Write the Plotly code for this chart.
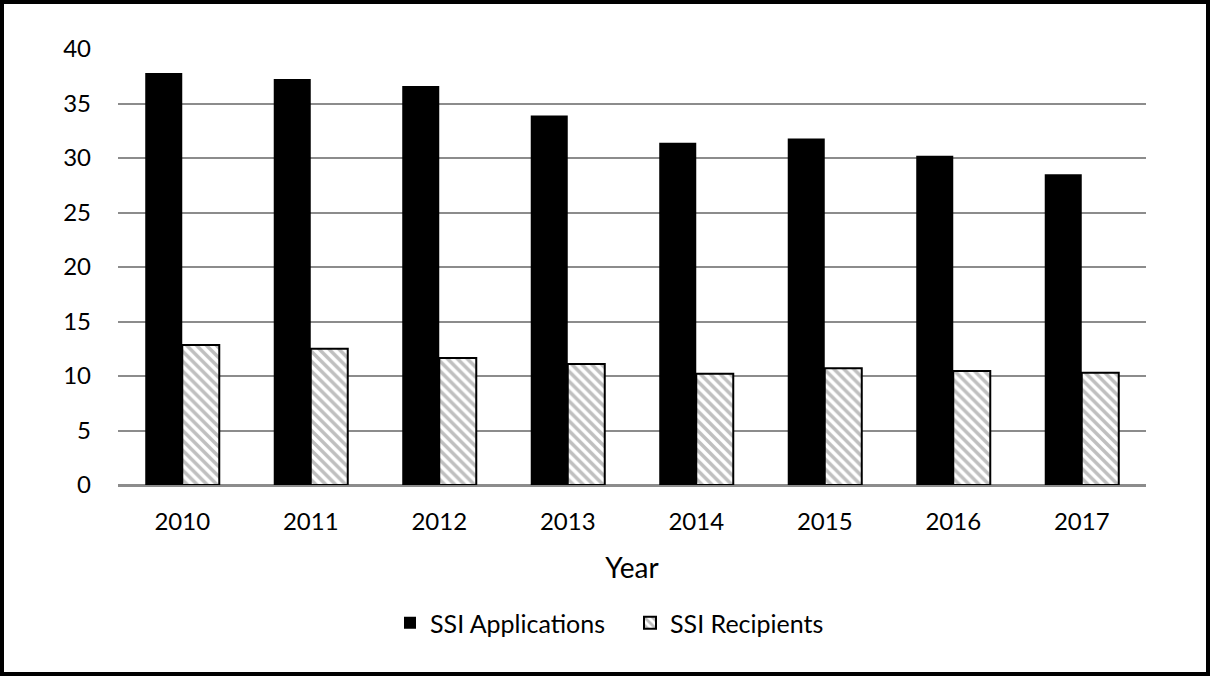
import plotly.graph_objects as go

years = ["2010", "2011", "2012", "2013", "2014", "2015", "2016", "2017"]
ssi_applications = [37.8, 37.25, 36.6, 33.9, 31.4, 31.8, 30.2, 28.5]
ssi_recipients = [12.85, 12.5, 11.65, 11.1, 10.2, 10.7, 10.45, 10.3]
y_ticks = [0, 5, 10, 15, 20, 25, 30, 35, 40]

W, H = 1210, 676
L, R, T, B = 118, 64, 49, 191
pw, ph = W - L - R, H - T - B

FONT = "Lato, 'Open Sans', Arial, sans-serif"

fig = go.Figure()
fig.add_trace(go.Bar(
    x=years, y=ssi_applications, name="SSI Applications",
    marker=dict(color="black", line=dict(color="black", width=0)),
))
fig.add_trace(go.Bar(
    x=years, y=ssi_recipients, name="SSI Recipients",
    marker=dict(color="white", line=dict(color="black", width=2),
                pattern=dict(shape="\\", fgcolor="#7f7f7f", bgcolor="white",
                             size=7, solidity=0.5, fillmode="overlay")),
))

def px_to_x(p):
    return (p - L) / pw

def px_to_y(p):
    return (H - B - p) / ph

fig.update_layout(
    width=W, height=H,
    margin=dict(l=L, r=R, t=T, b=B, autoexpand=False),
    paper_bgcolor="white", plot_bgcolor="white",
    barmode="group", bargap=0.424, bargroupgap=0,
    font=dict(family=FONT, color="black", size=24),
    xaxis=dict(
        title=dict(text="Year", font=dict(size=28), standoff=25),
        showgrid=False, showline=True, linecolor="#8c8c8c", linewidth=2,
        ticks="", ticklabelstandoff=14, tickfont=dict(size=24),
    ),
    yaxis=dict(
        range=[0, 40], tickvals=y_ticks, showgrid=True, gridcolor="#8c8c8c",
        gridwidth=2, zeroline=True, zerolinecolor="#8c8c8c", zerolinewidth=2,
        ticks="", ticklabelstandoff=26, tickfont=dict(size=24),
        showline=False,
    ),
    legend=dict(
        orientation="h", x=px_to_x(390), xanchor="left", y=px_to_y(623), yanchor="middle",
        font=dict(size=25), itemwidth=30, traceorder="normal",
        entrywidth=195, entrywidthmode="pixels",
        bgcolor="rgba(0,0,0,0)",
    ),
    shapes=[dict(
        type="rect", xref="paper", yref="paper",
        x0=px_to_x(2), x1=px_to_x(W - 2), y0=px_to_y(H - 2), y1=px_to_y(2),
        line=dict(color="black", width=4), fillcolor="rgba(0,0,0,0)",
        layer="above",
    )],
)

fig.write_html(
    "out.html",
    config={"displayModeBar": False},
    post_script="document.body.style.margin='0px';document.body.style.overflow='hidden';",
)
